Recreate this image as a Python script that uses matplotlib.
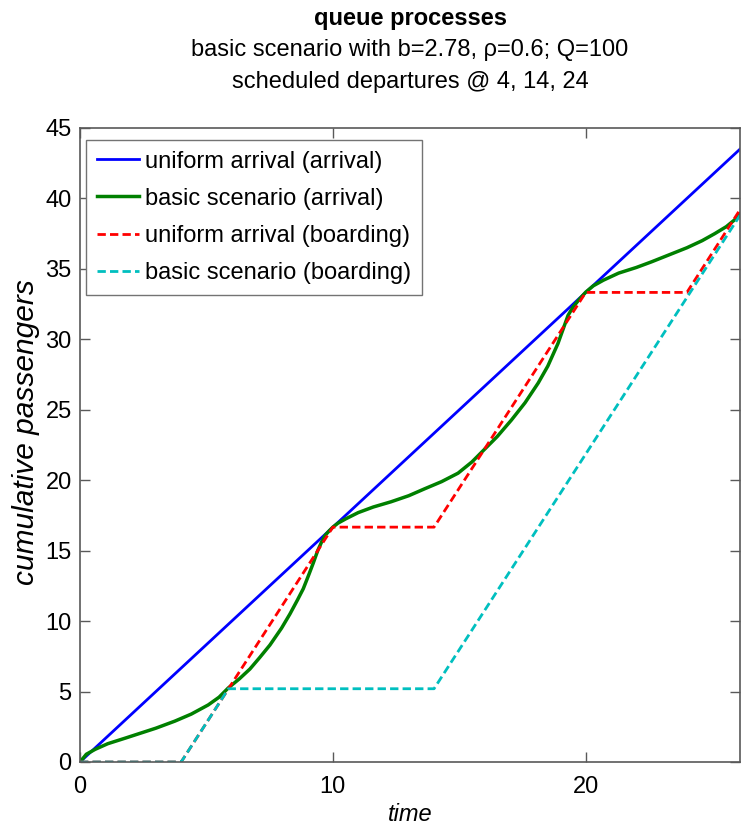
import matplotlib
matplotlib.use('Agg')
import matplotlib.pyplot as plt

# uniform arrival: straight line
uniform_arrival_t = [0, 26.1]
uniform_arrival_n = [0, 43.5]

# basic scenario arrival curve
basic_arrival_t = [0, 0.25, 0.6, 1.1, 1.8, 2.4, 3.0, 3.75, 4.4, 5.07, 5.5, 5.86, 6.3, 6.72,
	7.1, 7.51, 7.97, 8.3, 8.6, 8.83, 9.05, 9.22, 9.4, 9.55, 9.7, 9.85, 10.0,
	10.2, 10.5, 11.0, 11.6, 12.3, 13.0, 13.64, 14.3, 14.95, 15.5, 16.0, 16.5, 17.06,
	17.6, 18.12, 18.5, 18.9, 19.1, 19.3, 19.5, 19.75, 20.0,
	20.3, 20.7, 21.3, 22.0, 22.6, 23.3, 24.0, 24.6, 25.1, 25.56, 25.9, 26.1]
basic_arrival_n = [0, 0.55, 0.9, 1.3, 1.7, 2.05, 2.4, 2.9, 3.4, 4.05, 4.6, 5.25, 5.9, 6.6,
	7.4, 8.3, 9.5, 10.5, 11.5, 12.3, 13.3, 14.1, 15.0, 15.6, 16.1, 16.4, 16.67,
	16.95, 17.25, 17.7, 18.1, 18.47, 18.9, 19.4, 19.9, 20.5, 21.3, 22.2, 23.1, 24.27,
	25.5, 26.9, 28.1, 29.7, 30.7, 31.7, 32.3, 32.85, 33.35,
	33.8, 34.2, 34.7, 35.1, 35.5, 36.0, 36.5, 37.0, 37.5, 38.0, 38.5, 38.9]

# boarding processes (departures @ 4, 14, 24)
uniform_board_t = [0, 4, 10, 14, 20, 24, 26.1]
uniform_board_n = [0, 0, 16.67, 16.67, 33.33, 33.33, 39.2]
basic_board_t = [0, 4, 5.87, 14, 26.1]
basic_board_n = [0, 0, 5.2, 5.2, 38.8]

series_labels = ['uniform arrival (arrival)', 'basic scenario (arrival)',
	'uniform arrival (boarding)', 'basic scenario (boarding)']

x_ticks = [0, 10, 20]
y_ticks = [0, 5, 10, 15, 20, 25, 30, 35, 40, 45]

title_text = ('basic scenario with b=2.78, \u03c1=0.6; Q=100\n'
	'scheduled departures @ 4, 14, 24')


def main():
	plt.rcParams['font.family'] = ['Liberation Sans', 'DejaVu Sans']
	fs = 17
	f = plt.figure(figsize=(7.41, 8.34), dpi=100)
	ax = f.add_axes([80 / 741, 1 - 762 / 834, 660 / 741, 634 / 834])

	ax.plot(uniform_arrival_t, uniform_arrival_n, color='#0000ff', lw=2, label=series_labels[0])
	ax.plot(basic_arrival_t, basic_arrival_n, color='#008000', lw=2.5, label=series_labels[1])
	ax.plot(uniform_board_t, uniform_board_n, color='#ff0000', lw=2,
		linestyle=(0, (3, 1.5)), label=series_labels[2])
	ax.plot(basic_board_t, basic_board_n, color='#00bfbf', lw=2,
		linestyle=(0, (3, 1.5)), label=series_labels[3])

	ax.set_xlim(0, 26.1)
	ax.set_ylim(0, 45)
	ax.set_xticks(x_ticks)
	ax.set_yticks(y_ticks)
	ax.tick_params(direction='in', top=True, right=True, length=7, width=1,
		color='0.35', labelsize=fs)
	ax.tick_params(axis='x', pad=10)
	ax.tick_params(axis='y', pad=6)
	for s in ax.spines.values():
		s.set_color('0.35')
		s.set_linewidth(1.2)

	ax.set_xlabel('time', fontsize=fs, style='italic', labelpad=4)
	ax.set_ylabel('cumulative passengers', fontsize=21.5, style='italic')
	ax.yaxis.set_label_coords(-40 / 660, (762 - 432) / 634)

	f.text(410 / 741, 1 - 18 / 834, 'queue processes', ha='center', va='center',
		fontsize=fs, fontweight='bold')
	f.text(410 / 741, 1 - 66 / 834, title_text, ha='center', va='center',
		fontsize=fs, linespacing=1.6)

	leg = ax.legend(loc='upper left', bbox_to_anchor=(6 / 660, 1 - 12 / 634),
		borderaxespad=0, fontsize=fs, fancybox=False, framealpha=1,
		edgecolor='0.45', handlelength=1.8, handletextpad=0.25, labelspacing=0.64,
		borderpad=0.45)
	leg.get_frame().set_linewidth(1.0)

	f.savefig('out.png', dpi=100)


if __name__ == '__main__':
	main()
